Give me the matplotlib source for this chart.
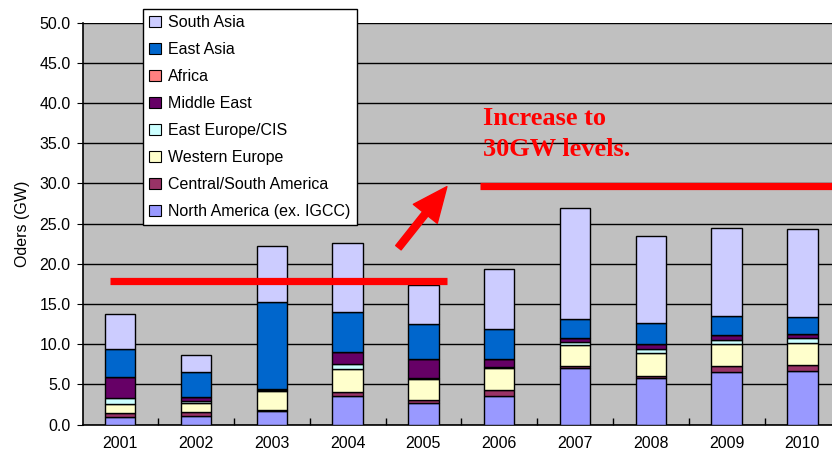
import numpy as np
import matplotlib
matplotlib.use("Agg")
import matplotlib.pyplot as plt
from matplotlib.patches import Patch

# data (GW)
years = ['2001', '2002', '2003', '2004', '2005', '2006', '2007', '2008', '2009', '2010']
north_america = [0.9, 1.1, 1.75, 3.55, 2.65, 3.5, 7.1, 5.85, 6.55, 6.65]
central_south_america = [0.6, 0.5, 0.1, 0.45, 0.35, 0.85, 0.15, 0.15, 0.75, 0.75]
western_europe = [1.0, 1.05, 2.3, 2.95, 2.7, 2.7, 2.6, 2.9, 2.75, 2.7]
east_europe_cis = [0.85, 0.3, 0.1, 0.55, 0.1, 0.1, 0.45, 0.5, 0.5, 0.65]
middle_east = [2.6, 0.5, 0.2, 1.5, 2.3, 0.95, 0.5, 0.6, 0.6, 0.5]
africa = [0.0, 0.0, 0.0, 0.0, 0.0, 0.0, 0.0, 0.0, 0.0, 0.0]
east_asia = [3.4, 3.05, 10.8, 5.0, 4.45, 3.75, 2.3, 2.6, 2.35, 2.1]
south_asia = [4.45, 2.15, 7.0, 8.6, 4.85, 7.55, 13.9, 10.9, 11.0, 10.95]

series = [
    ('North America (ex. IGCC)', north_america, '#9999FF'),
    ('Central/South America', central_south_america, '#993366'),
    ('Western Europe', western_europe, '#FFFFCC'),
    ('East Europe/CIS', east_europe_cis, '#CCFFFF'),
    ('Middle East', middle_east, '#660066'),
    ('Africa', africa, '#FF8080'),
    ('East Asia', east_asia, '#0066CC'),
    ('South Asia', south_asia, '#CCCCFF'),
]

old_level = 17.9
new_level = 29.7

plt.rcParams['font.family'] = ['Liberation Sans', 'DejaVu Sans']

fig = plt.figure(figsize=(8.32, 4.62), dpi=100)
ax = fig.add_axes([0.0998, 0.081, 0.9002, 0.870])
ax.set_facecolor('#C0C0C0')

x = np.arange(len(years))
bottom = np.zeros(len(years))
for name, vals, color in series:
    ax.bar(x, vals, 0.4, bottom=bottom, color=color, edgecolor='black', linewidth=1.0, zorder=3)
    bottom += np.array(vals)

ax.set_xlim(-0.49, 9.39)
ax.set_ylim(0, 50)
ax.set_yticks(np.arange(0, 51, 5))
ax.set_yticklabels([f'{v:.1f}' for v in np.arange(0, 51, 5)], fontsize=11.5)
ax.set_xticks(x)
ax.set_xticklabels(years, fontsize=11.5)
ax.set_xticks(np.arange(0.5, 9.5, 1), minor=True)
ax.tick_params(axis='x', which='major', length=0, pad=8)
ax.tick_params(axis='x', which='minor', length=5, direction='in', width=1)
ax.tick_params(axis='y', length=4, direction='out', pad=5)
ax.yaxis.grid(True, color='black', linewidth=1.0, zorder=0)
ax.set_axisbelow(True)
for s in ['top', 'right']:
    ax.spines[s].set_visible(False)
ax.spines['left'].set_linewidth(1.2)
ax.spines['bottom'].set_linewidth(1.2)
ax.set_ylabel('Oders (GW)', fontsize=11.5, labelpad=7)

# red level lines, arrow and note
ax.plot([-0.13, 4.31], [old_level, old_level], color='red', lw=5.2, zorder=5, solid_capstyle='butt')
ax.plot([4.74, 9.39], [new_level, new_level], color='red', lw=5.2, zorder=5, solid_capstyle='butt')
ax.annotate('', xy=(4.31, 29.6), xytext=(3.67, 22.0),
            arrowprops=dict(facecolor='red', edgecolor='red', width=5, headwidth=22,
                            headlength=25, shrink=0), zorder=5)
ax.text(4.78, 37.25, 'Increase to', color='red', fontsize=19, fontweight='bold',
        family=['Liberation Serif', 'DejaVu Serif'], va='baseline', zorder=6)
ax.text(4.78, 33.4, '30GW levels.', color='red', fontsize=19, fontweight='bold',
        family=['Liberation Serif', 'DejaVu Serif'], va='baseline', zorder=6)

handles = [Patch(facecolor=c, edgecolor='black', linewidth=0.8, label=n) for n, v, c in series[::-1]]
leg = fig.legend(handles=handles, loc='upper left', bbox_to_anchor=(0.172, 0.981),
                 fontsize=11.5, frameon=True, fancybox=False, edgecolor='black',
                 framealpha=1, handlelength=0.75, handleheight=0.75, handletextpad=0.4,
                 labelspacing=0.75, borderpad=0.4, borderaxespad=0)
leg.get_frame().set_linewidth(1.0)
leg.set_zorder(10)

fig.savefig('out.png', dpi=100)
